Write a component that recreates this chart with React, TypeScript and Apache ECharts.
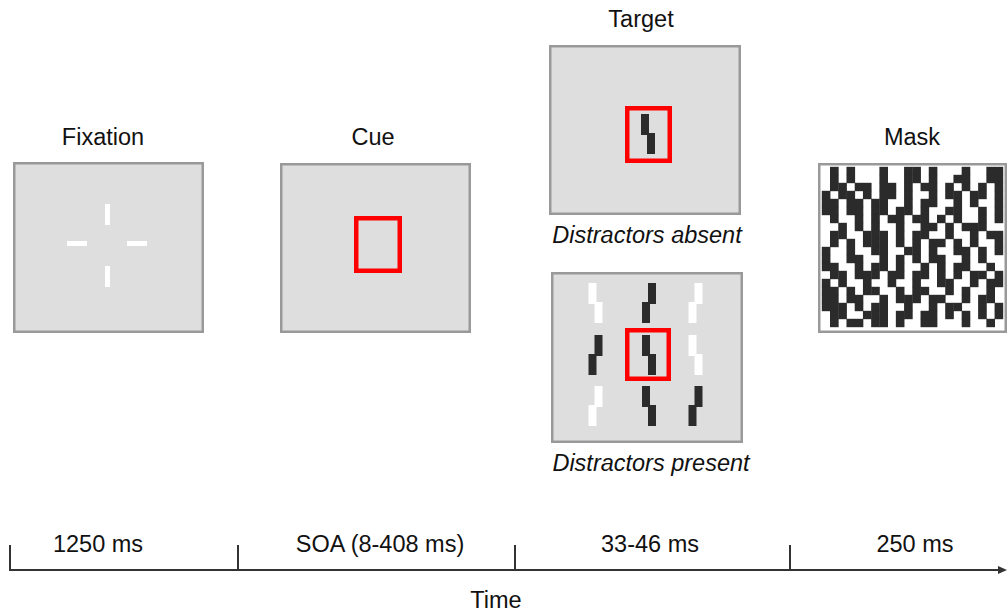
import React, { useEffect, useRef } from "react";
import * as echarts from "echarts";

const stageLabels = ["Fixation", "Cue", "Target", "Mask"];
const durationLabels = ["1250 ms", "SOA (8-408 ms)", "33-46 ms", "250 ms"];
const conditionLabels = ["Distractors absent", "Distractors present"];
const axisTitle = "Time";
// 'R': upper bar left, lower bar right ; 'L': upper bar right, lower bar left
const targetOrient = "R";
const distractorOrient = [
  ["R", "L", "L"],
  ["L", "R", "R"],
  ["L", "R", "L"],
];
const distractorShade = [
  ["w", "d", "w"],
  ["d", "d", "w"],
  ["w", "d", "d"],
];
const maskRows = [
  ".#.#...#..##.#...#..##",
  ".#.#...#..##.#..##..##",
  ".##.##.##.#.##.#.#.#.#",
  "#.##.#.##.#..#.##.##.#",
  "##.##.##..#.##..#.#..#",
  "##.##.##.##.#..##..#.#",
  ".#..#.#.##.##.#.#..#.#",
  "..#.#.#..#..##.#.###..",
  ".##..###.#.##..#..#.##",
  ".#.#.###.#.#.##.#.#..#",
  "#..#..##..##.#..##.#.#",
  "#..##..#.#.#.##..#.#..",
  "##..#.##.#..#.#.##..#.",
  ".##.###.##.##.#.#.##.#",
  "#.#..#..#..#..##..#.##",
  "##.#.##..#.##..#.#..#.",
  "##.##..#.###.##..#.##.",
  "###.#.##..#..#.##..#.#",
  ".##..###.##.##.#.#.#.#",
  ".#.##.##.#..##...#..#.",
];

const FONT = "Liberation Sans, Arial, sans-serif";
const TXT = "#111";
const DARK = "#2b2b2b";
const GRAY_FILL = "#dedede";
const GRAY_BORDER = "#999999";
const RED = "#ff0000";
const FS = 23.5;

function panel(x0: number, y0: number, x1: number, y1: number, fill: string) {
  const lw = 2.5;
  return {
    type: "rect",
    shape: { x: x0 + lw / 2, y: y0 + lw / 2, width: x1 - x0 - lw, height: y1 - y0 - lw },
    style: { fill, stroke: GRAY_BORDER, lineWidth: lw },
  };
}

function redBox(x0: number, y0: number, x1: number, y1: number) {
  const lw = 4.5;
  return {
    type: "rect",
    shape: { x: x0 + lw / 2, y: y0 + lw / 2, width: x1 - x0 - lw, height: y1 - y0 - lw },
    style: { fill: "none", stroke: RED, lineWidth: lw },
  };
}

function glyph(cx: number, cy: number, orient: string, color: string, h = 20) {
  const w = 8;
  const upX = orient === "R" ? cx - 7 : cx - 1;
  const loX = orient === "R" ? cx - 1 : cx - 7;
  return [
    { type: "rect", shape: { x: upX, y: cy - h, width: w, height: h + 1 }, style: { fill: color } },
    { type: "rect", shape: { x: loX, y: cy - 1, width: w, height: h + 1 }, style: { fill: color } },
  ];
}

function text(s: string, x: number, y: number, italic = false, size = FS) {
  return {
    type: "text",
    x,
    y,
    style: {
      text: s,
      fill: TXT,
      font: `${italic ? "italic " : ""}${size}px ${FONT}`,
      align: "center",
      verticalAlign: "middle",
    },
  };
}

export default function App() {
  const ref = useRef<HTMLDivElement>(null);
  useEffect(() => {
    document.body.style.margin = "0";
    const chart = echarts.init(ref.current!, null, { renderer: "svg" });
    const g: any[] = [];

    // Fixation
    g.push(panel(13, 162, 204, 333, GRAY_FILL));
    const cx = 107.5, cy = 243.5;
    g.push({ type: "rect", shape: { x: cx - 2.5, y: 204, width: 5, height: 21 }, style: { fill: "#fff" } });
    g.push({ type: "rect", shape: { x: cx - 2.5, y: 266, width: 5, height: 21 }, style: { fill: "#fff" } });
    g.push({ type: "rect", shape: { x: 67, y: cy - 2.5, width: 20, height: 5 }, style: { fill: "#fff" } });
    g.push({ type: "rect", shape: { x: 127, y: cy - 2.5, width: 20, height: 5 }, style: { fill: "#fff" } });

    // Cue
    g.push(panel(280, 163, 471, 333, GRAY_FILL));
    g.push(redBox(354, 216, 402, 273));

    // Target, distractors absent
    g.push(panel(549, 45, 741, 215, GRAY_FILL));
    g.push(...glyph(648, 134, targetOrient, DARK));
    g.push(redBox(625, 106, 672, 163));

    // Target, distractors present
    g.push(panel(551, 272, 743, 443, GRAY_FILL));
    const colX = [595.5, 649, 695.5];
    const rowY = [303, 355, 406];
    for (let r = 0; r < 3; r++) {
      for (let c = 0; c < 3; c++) {
        g.push(...glyph(colX[c], rowY[r], distractorOrient[r][c], distractorShade[r][c] === "d" ? DARK : "#ffffff"));
      }
    }
    g.push(redBox(625, 328, 671, 381));

    // Mask
    g.push(panel(818, 163, 1007, 333, "#ffffff"));
    const mx0 = 822, my0 = 167, mx1 = 1003, my1 = 327;
    const nC = maskRows[0].length, nR = maskRows.length;
    const cw = (mx1 - mx0) / nC, ch = (my1 - my0) / nR;
    maskRows.forEach((row, r) => {
      for (let c = 0; c < nC; c++) {
        if (row[c] === "#") {
          g.push({
            type: "rect",
            shape: { x: mx0 + c * cw - 0.2, y: my0 + r * ch - 0.2, width: cw + 0.4, height: ch + 0.4 },
            style: { fill: DARK },
          });
        }
      }
    });

    // Stage labels
    g.push(text(stageLabels[0], 103, 137));
    g.push(text(stageLabels[1], 373, 137));
    g.push(text(stageLabels[2], 641, 19));
    g.push(text(stageLabels[3], 912, 137));
    g.push(text(conditionLabels[0], 647, 235, true));
    g.push(text(conditionLabels[1], 651, 463, true));

    // Timeline
    const lineY = 570;
    g.push({ type: "line", shape: { x1: 9, y1: lineY, x2: 1000, y2: lineY }, style: { stroke: "#333", lineWidth: 2 } });
    g.push({ type: "polygon", shape: { points: [[998, lineY - 4], [1007, lineY], [998, lineY + 4]] }, style: { fill: "#333" } });
    const tickX = [10, 238, 515, 790];
    tickX.forEach((x) => {
      g.push({ type: "line", shape: { x1: x, y1: 545, x2: x, y2: lineY }, style: { stroke: "#333", lineWidth: 2 } });
    });
    const labelX = [98, 380, 650, 915];
    durationLabels.forEach((s, i) => g.push(text(s, labelX[i], 544)));
    g.push(text(axisTitle, 496, 600));

    chart.setOption({
      animation: false,
      backgroundColor: "#ffffff",
      graphic: g,
    });
    return () => chart.dispose();
  }, []);
  return <div ref={ref} style={{ width: 1007, height: 613 }} />;
}
